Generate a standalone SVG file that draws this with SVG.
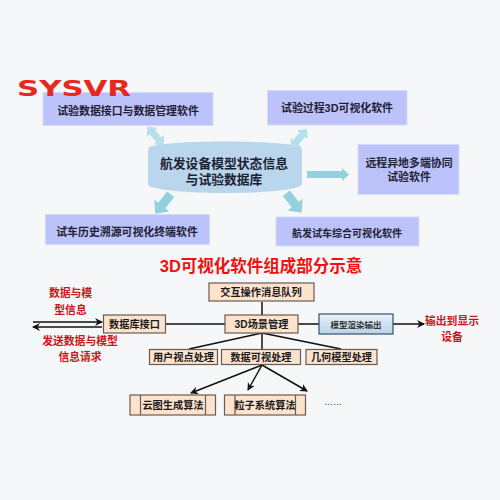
<svg xmlns="http://www.w3.org/2000/svg" width="500" height="500" viewBox="0 0 500 500">
<style>
text{font-family:"Liberation Sans","Noto Sans CJK SC",sans-serif;text-anchor:middle;font-weight:bold}
.b{fill:#bcc3fb;stroke:#d6dbfb;stroke-width:1}
.t{font-size:10.9px;fill:#222233}
.o{fill:#fde3cd;stroke:#6b5a50;stroke-width:1.2}
.k{font-size:10.2px;fill:#1a1a1a}
.r{font-size:10.8px;fill:#c8161d}
.c{stroke:#111;stroke-width:1.5;fill:none}
.a{stroke:#111;stroke-width:1.5;fill:none;marker-end:url(#ah)}
.p{fill:#93cfdf}
.q{fill:#b5e0ea}
</style>
<defs>
<marker id="ah" markerWidth="9" markerHeight="9" refX="7" refY="4" orient="auto" markerUnits="userSpaceOnUse"><path d="M0 0L8 4L0 8L2.500 4Z" fill="#111"/></marker>
<linearGradient id="g" x1="0" y1="0" x2="0" y2="1"><stop offset="0" stop-color="#e8f0f8"/><stop offset="1" stop-color="#b9d3ea"/></linearGradient>
<path id="dbl" d="M-12.500 0L-5 -7V-3.500H5V-7L12.500 0L5 7V3.500H-5V7Z"/>
<path id="sgl" d="M-12.500 -4.500H2V-9.500L12.500 0L2 9.500V4.500H-12.500Z"/>
</defs>
<rect width="500" height="500" fill="#f5f7f9"/>

<g id="box-data"><rect class="b" x="43" y="92.500" width="170" height="33"/><text class="t" x="128" y="115">试验数据接口与数据管理软件</text></g>
<g id="logo"><text x="74" y="96" font-size="22" fill="#e8281f" style="font-family:'DejaVu Sans',sans-serif" textLength="114" lengthAdjust="spacingAndGlyphs">SYSVR</text></g>
<g id="box-3d"><rect class="b" x="267.500" y="90.500" width="139.500" height="34.500"/><text class="t" x="337" y="112">试验过程3D可视化软件</text></g>
<g id="box-remote"><rect class="b" x="358" y="144.500" width="101" height="50"/><text class="t" x="409" y="167">远程异地多端协同</text><text class="t" x="409" y="181">试验软件</text></g>
<g id="box-history"><rect class="b" x="45.500" y="214.500" width="164" height="30"/><text class="t" x="127" y="236">试车历史溯源可视化终端软件</text></g>
<g id="box-overall"><rect class="b" x="276" y="217" width="143" height="29"/><text class="t" style="font-size:10px" x="347" y="237">航发试车综合可视化软件</text></g>
<g id="db"><path d="M152 146C175 140 275 140 298 146Q302 147 302 150V183Q302 186 298 187C275 195 175 195 152 187Q148 186 148 183V150Q148 147 152 146Z" fill="#bad6ec"/><text x="224" y="168" font-size="12.800px" fill="#1c2233">航发设备模型状态信息</text><text x="224" y="184" font-size="12.800px" fill="#1c2233">与试验数据库</text></g>

<g id="connectors-top">
<use href="#dbl" class="q" transform="translate(155.500 136) rotate(49)"/>
<use href="#dbl" class="q" transform="translate(299 138.500) rotate(-50)"/>
<path class="p" d="M307 171H342V168L349 174.500L342 181V178H307Z"/>
<use href="#sgl" class="p" transform="translate(294 203) rotate(52)"/>
<use href="#sgl" class="p" transform="translate(163 204) rotate(128)"/>
</g>

<text x="261" y="272" font-size="16.500px" fill="#f01010">3D可视化软件组成部分示意</text>
<text class="r" x="70.500" y="297">数据与模</text><text class="r" x="70.500" y="314">型信息</text>
<text class="r" x="80" y="345">发送数据与模型</text><text class="r" x="80" y="361">信息请求</text>
<text class="r" x="452" y="325">输出到显示</text><text class="r" x="452" y="341">设备</text>

<g id="connectors">
<path class="a" d="M33 322H102"/>
<path class="a" d="M102 327H33"/>
<path class="c" d="M166 324H225"/>
<path class="c" d="M262 302V315"/>
<path class="c" d="M298 324H319"/>
<path class="a" d="M393 324H424"/>
<path class="c" d="M262 333V350"/>
<path class="c" d="M262 333L189 349"/>
<path class="c" d="M262 333L341 349"/>
<path class="a" d="M262 365L191 393"/>
<path class="a" d="M262 365L248 390"/>
<path class="a" d="M262 365L307 391"/>
</g>

<g id="n-queue"><rect class="o" x="209" y="283" width="105" height="18"/><text class="k" x="261" y="296">交互操作消息队列</text></g>
<g id="n-dbif"><rect class="o" x="103.500" y="315" width="62" height="18"/><text class="k" x="134.500" y="328">数据库接口</text></g>
<g id="n-scene"><rect class="o" x="225" y="315" width="73" height="18"/><text class="k" x="261.500" y="328">3D场景管理</text></g>
<g id="n-render"><rect x="319" y="314" width="74" height="20" fill="url(#g)" stroke="#34506a" stroke-width="1.200"/><text x="356" y="327.500" font-size="8.500px" fill="#333">模型渲染输出</text></g>
<g id="n-view"><rect class="o" x="149.500" y="349.500" width="68" height="15"/><text class="k" x="183.500" y="361">用户视点处理</text></g>
<g id="n-dv"><rect class="o" x="221.500" y="349.500" width="79" height="15"/><text class="k" x="261" y="361">数据可视处理</text></g>
<g id="n-geo"><rect class="o" x="306" y="349.500" width="71" height="15"/><text class="k" x="341.500" y="361">几何模型处理</text></g>
<g id="n-cloud"><rect class="o" x="130" y="395" width="85.500" height="20"/><path class="o" d="M140.500 395V415M205.500 395V415"/><text class="k" x="173" y="408.500">云图生成算法</text></g>
<g id="n-part"><rect class="o" x="224.500" y="395" width="81" height="20"/><path class="o" d="M235 395V415M295.500 395V415"/><text class="k" x="265" y="408.500">粒子系统算法</text></g>
<text x="333" y="405" font-size="9px" fill="#222" style="font-weight:normal">……</text>
</svg>
